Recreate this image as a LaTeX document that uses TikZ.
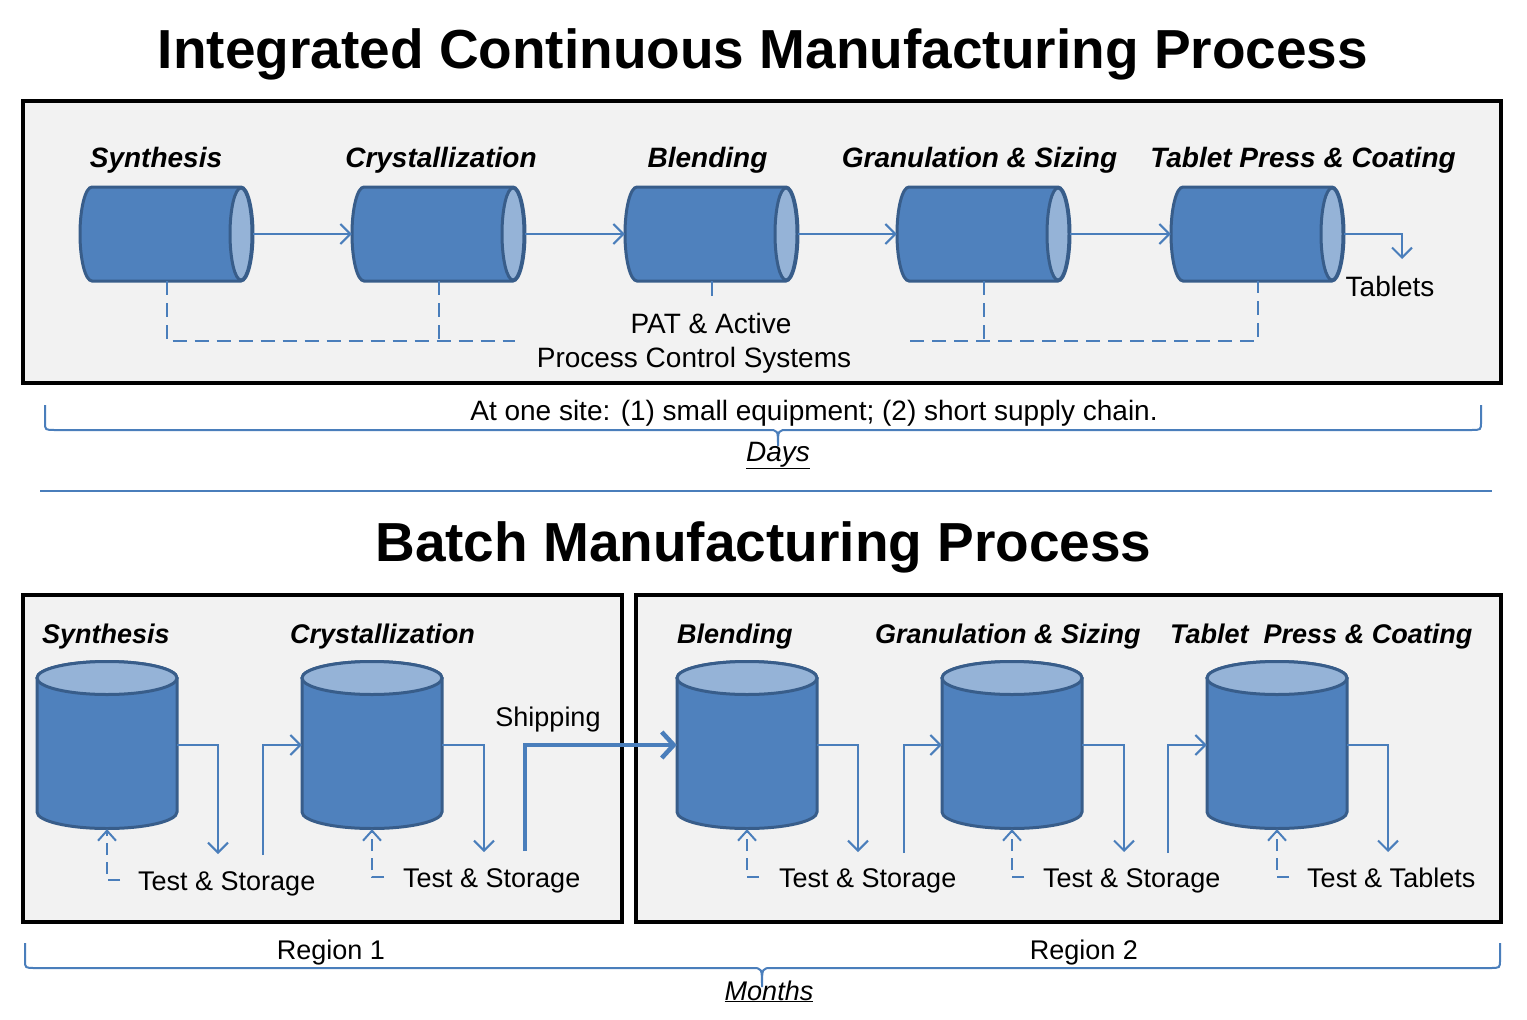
\documentclass[tikz,border=0pt]{standalone}
\usepackage{fontspec}
\setmainfont{Liberation Sans}
\usetikzlibrary{arrows.meta}
\definecolor{cylfill}{HTML}{4F81BD}
\definecolor{cyledge}{HTML}{385D8A}
\definecolor{cylend}{HTML}{95B3D7}
\definecolor{linkblue}{HTML}{4A7EBB}
\definecolor{panel}{HTML}{F2F2F2}
\newcommand\ttlfont{\fontsize{55}{60}\selectfont\bfseries}
\newcommand\stagefont{\fontsize{28}{30}\selectfont\bfseries\itshape}
\newcommand\bstagefont{\fontsize{27}{30}\selectfont\bfseries\itshape}
\newcommand\topbody{\fontsize{28}{30}\selectfont}
\newcommand\botbody{\fontsize{27}{30}\selectfont}
\newcommand\hcyl[3]{%
  \path[fill=cylfill, draw=cyledge, line width=3pt]
    ({#1+12},{#3-47}) -- ({#2-12},{#3-47})
    arc[start angle=-90, end angle=90, x radius=12, y radius=47]
    -- ({#1+12},{#3+47})
    arc[start angle=90, end angle=270, x radius=12, y radius=47] -- cycle;
  \path[fill=cylend, draw=cyledge, line width=3pt] ({#2-12},#3) ellipse[x radius=11, y radius=46];
}
\newcommand\vcyl[3]{%
  \path[fill=cylfill, draw=cyledge, line width=3pt]
    ({#1-70},#2) -- ({#1-70},#3)
    arc[start angle=180, end angle=0, x radius=70, y radius=16.5]
    -- ({#1+70},#2)
    arc[start angle=0, end angle=-180, x radius=70, y radius=16.5] -- cycle;
  \path[fill=cylend, draw=cyledge, line width=3pt] (#1,#2) ellipse[x radius=70, y radius=16.5];
}
\tikzset{
  panelbox/.style={draw=black, line width=4pt, fill=panel},
  hbox/.style={rectangle, inner sep=0pt, minimum width=173pt, minimum height=94pt},
  vbox/.style={rectangle, inner sep=0pt, minimum width=140pt, minimum height=168pt},
  flow/.style={draw=linkblue, line width=2pt, -{Straight Barb[length=10pt, width=20pt]}},
  shipflow/.style={draw=linkblue, line width=4.5pt, -{Straight Barb[length=12pt, width=26pt]}},
  fbflow/.style={draw=linkblue, line width=2pt, dash pattern=on 12pt off 7pt, -{Straight Barb[length=10pt, width=18pt]}},
  pcdash/.style={draw=linkblue, line width=2pt, dash pattern=on 14pt off 8pt},
  pcsolid/.style={draw=linkblue, line width=2pt},
  bracestyle/.style={draw=linkblue, line width=2pt},
  txt/.style={anchor=base, inner sep=0pt, text=black},
  ltxt/.style={anchor=base west, inner sep=0pt, text=black},
}
\begin{document}
\begin{tikzpicture}[x=1pt, y=-1pt]
\useasboundingbox[fill=white] (0,0) rectangle (1527,1020);

% ---------- Titles ----------
\node[txt] (title1) at (763,68) {\ttlfont Integrated Continuous Manufacturing Process};
\node[txt] (title2) at (763.5,561) {\ttlfont Batch Manufacturing Process};

% ---------- Top panel ----------
\path[panelbox] (23,101) rectangle (1501,383);

\node[txt] (ls1) at (156,167) {\stagefont Synthesis};
\node[txt] (ls2) at (441,167) {\stagefont Crystallization};
\node[txt] (ls3) at (707.5,167) {\stagefont Blending};
\node[txt] (ls4) at (979.5,167) {\stagefont Granulation \& Sizing};
\node[txt] (ls5) at (1303,167) {\stagefont Tablet Press \& Coating};

\hcyl{80}{253}{234}
\hcyl{352}{525}{234}
\hcyl{625}{798}{234}
\hcyl{897}{1070}{234}
\hcyl{1171}{1344}{234}
\node[hbox] (c1) at (166.5,234) {};
\node[hbox] (c2) at (438.5,234) {};
\node[hbox] (c3) at (711.5,234) {};
\node[hbox] (c4) at (983.5,234) {};
\node[hbox] (c5) at (1257.5,234) {};

\coordinate (tab) at (1402,259);
\draw[flow] (c1.east) -- (c2.west);
\draw[flow] (c2.east) -- (c3.west);
\draw[flow] (c3.east) -- (c4.west);
\draw[flow] (c4.east) -- (c5.west);
\draw[flow] (c5.east) -| (tab);
\node[txt] (tablets) at (1390,296) {\topbody Tablets};

\coordinate (p1) at (515,341);
\coordinate (p3) at (711.5,296);
\coordinate (p4) at (910,341);
\draw[pcdash] (c1.south) |- (p1);
\draw[pcdash] (c2.south) -- (c2.south |- p1);
\draw[pcsolid] (c3.south) -- (p3);
\draw[pcdash] (p4) -| (c5.south);
\draw[pcdash] (c4.south) -- (c4.south |- p4);

\node[txt] (pat1) at (711,333) {\topbody PAT \& Active};
\node[txt] (pat2) at (694,367) {\topbody Process Control Systems};

% ---------- Top brace ----------
\draw[bracestyle] (45,405) -- (45,422) .. controls (45,430) .. (55,430)
  -- (768,430) .. controls (778,430) .. (778,446)
  .. controls (778,430) .. (788,430) -- (1471,430)
  .. controls (1481,430) .. (1481,422) -- (1481,405);
\node[txt] (site) at (814,420) {\topbody At one site: (1) small equipment; (2) short supply chain.};
\node[txt] (days) at (778,461) {\topbody\itshape \underline{Days}};

% separator
\draw[draw=linkblue, line width=2pt] (40,491) -- (1492,491);

% ---------- Bottom panels ----------
\path[panelbox] (23,595) rectangle (622,922);
\path[panelbox] (636,595) rectangle (1501,922);

\node[ltxt] (bs1) at (42,643) {\bstagefont Synthesis};
\node[ltxt] (bs2) at (290,643) {\bstagefont Crystallization};
\node[ltxt] (bs3) at (677,643) {\bstagefont Blending};
\node[ltxt] (bs4) at (875,643) {\bstagefont Granulation \& Sizing};
\node[ltxt] (bs5) at (1170,643) {\bstagefont Tablet\ \ Press \& Coating};

\vcyl{107}{678}{812}
\vcyl{372}{678}{812}
\vcyl{747}{678}{812}
\vcyl{1012}{678}{812}
\vcyl{1277}{678}{812}
\node[vbox] (b1) at (107,745) {};
\node[vbox] (b2) at (372,745) {};
\node[vbox] (b3) at (747,745) {};
\node[vbox] (b4) at (1012,745) {};
\node[vbox] (b5) at (1277,745) {};

\coordinate (o1) at (218,854);
\coordinate (i2) at (263,855);
\coordinate (o2) at (484,852);
\coordinate (ship) at (525,851);
\coordinate (o3) at (858,852);
\coordinate (i4) at (904,853);
\coordinate (o4) at (1124,852);
\coordinate (i5) at (1168,853);
\coordinate (o5) at (1388,852);

\draw[flow] (b1.east) -| (o1);
\draw[flow] (i2) |- (b2.west);
\draw[flow] (b2.east) -| (o2);
\draw[shipflow] (ship) |- (b3.west);
\draw[flow] (b3.east) -| (o3);
\draw[flow] (i4) |- (b4.west);
\draw[flow] (b4.east) -| (o4);
\draw[flow] (i5) |- (b5.west);
\draw[flow] (b5.east) -| (o5);

\node[txt] (shipping) at (548,726) {\botbody Shipping};

\coordinate (f1) at (120,880);
\coordinate (f2) at (384,877);
\coordinate (f3) at (759,877);
\coordinate (f4) at (1024,877);
\coordinate (f5) at (1289,877);
\draw[fbflow] (f1) -| (b1.south);
\draw[fbflow] (f2) -| (b2.south);
\draw[fbflow] (f3) -| (b3.south);
\draw[fbflow] (f4) -| (b4.south);
\draw[fbflow] (f5) -| (b5.south);

\node[ltxt] (ts1) at (138,890) {\botbody Test \& Storage};
\node[ltxt] (ts2) at (403,887) {\botbody Test \& Storage};
\node[ltxt] (ts3) at (779,887) {\botbody Test \& Storage};
\node[ltxt] (ts4) at (1043,887) {\botbody Test \& Storage};
\node[ltxt] (ts5) at (1307,887) {\botbody Test \& Tablets};

% ---------- Bottom brace ----------
\draw[bracestyle] (25,943) -- (25,960) .. controls (25,968) .. (35,968)
  -- (752,968) .. controls (762,968) .. (762,987)
  .. controls (762,968) .. (772,968) -- (1490,968)
  .. controls (1500,968) .. (1500,960) -- (1500,943);
\node[txt] (reg1) at (331,959) {\botbody Region 1};
\node[txt] (reg2) at (1084,959) {\botbody Region 2};
\node[txt] (months) at (769,1000) {\botbody\itshape \underline{Months}};
\end{tikzpicture}
\end{document}
